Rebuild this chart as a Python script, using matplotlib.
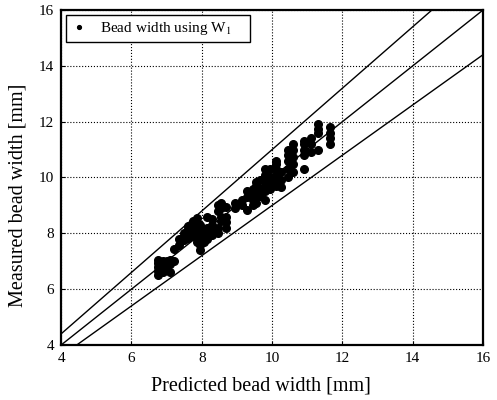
import numpy as np
import matplotlib
matplotlib.use('Agg')
from matplotlib import pyplot as plt

plt.rcParams['font.family'] = ['Liberation Serif', 'DejaVu Serif']
plt.rcParams['mathtext.fontset'] = 'stix'

# measured bead width, grouped by predicted value (columns of points)
pred_cols = [6.75, 6.9, 7.0, 7.1, 7.2, 7.35, 7.5, 7.6, 7.75, 7.85, 7.95,
             8.05, 8.15, 8.3, 8.45, 8.55, 8.7, 8.95, 9.15, 9.3, 9.45,
             9.55, 9.65, 9.8, 9.95, 10.1, 10.25, 10.45, 10.6, 10.9, 11.1,
             11.3, 11.65]
meas_cols = [
    [6.5, 6.65, 6.8, 6.95, 7.05],
    [6.6, 6.9, 7.0],
    [6.7, 6.85, 7.0],
    [6.6, 6.9, 7.05],
    [7.0, 7.45],
    [7.6, 7.8],
    [7.75, 7.9, 8.0],
    [7.85, 8.0, 8.15, 8.25],
    [7.9, 8.1, 8.3, 8.45],
    [7.7, 7.9, 8.05, 8.2, 8.4, 8.55],
    [7.4, 7.6, 7.8, 8.0, 8.15, 8.3],
    [7.7, 7.9, 8.1],
    [7.8, 8.0, 8.2, 8.6],
    [7.95, 8.1, 8.3, 8.5],
    [8.0, 8.2, 8.8, 9.0],
    [8.45, 8.6, 8.9, 9.1],
    [8.2, 8.4, 8.6, 8.95],
    [8.9, 9.1],
    [9.0, 9.2],
    [8.85, 9.3, 9.5],
    [9.0, 9.2, 9.4, 9.6],
    [9.1, 9.3, 9.5, 9.7, 9.85],
    [9.35, 9.6, 9.9],
    [9.2, 9.5, 9.7, 9.9, 10.1, 10.3],
    [9.6, 9.85, 10.0, 10.3],
    [9.7, 9.9, 10.1, 10.3, 10.5, 10.6],
    [9.65, 9.9, 10.2],
    [10.0, 10.3, 10.6, 10.8, 11.0],
    [10.2, 10.5, 10.75, 11.0, 11.2],
    [10.3, 10.8, 11.0, 11.2, 11.3],
    [10.9, 11.2, 11.4],
    [11.0, 11.6, 11.75, 11.9],
    [11.2, 11.4, 11.6, 11.8],
]
xticks = [4, 6, 8, 10, 12, 14, 16]
yticks = [4, 6, 8, 10, 12, 14, 16]

pred = np.concatenate([[p] * len(m) for p, m in zip(pred_cols, meas_cols)])
meas = np.concatenate(meas_cols)

fig = plt.figure(figsize=(4.97, 4.0), dpi=100)
ax = fig.add_axes([0.123, 0.1375, 0.849, 0.8375])

# y = x and +/-10 % bounds
xl = np.array([4.0, 16.0])
ax.plot(xl, xl, color='black', lw=1.0)
ax.plot(xl, 1.1 * xl, color='black', lw=1.0)
ax.plot(xl, 0.9 * xl, color='black', lw=1.0)
ax.plot(pred, meas, 'o', color='black', ms=5.5, mec='black',
        label='Bead width using W$_1$    ')

ax.set_xlim(4, 16)
ax.set_ylim(4, 16)
ax.set_xticks(xticks)
ax.set_yticks(yticks)
ax.grid(True, color='black', linestyle=':', lw=0.8)
ax.tick_params(direction='in', length=3, labelsize=11, pad=5)
for sp in ax.spines.values():
    sp.set_linewidth(1.6)

ax.set_xlabel('Predicted bead width [mm]', fontsize=14.5)
ax.set_ylabel('Measured bead width [mm]', fontsize=14.5)
ax.xaxis.set_label_coords(0.474, -0.095)
ax.yaxis.set_label_coords(-0.08, 0.448)

leg = ax.legend(loc='upper left', fontsize=11, markerscale=0.5,
                fancybox=False, framealpha=1, edgecolor='black',
                borderpad=0.35, handlelength=1.0, handletextpad=0.9,
                borderaxespad=0.3)
leg.get_frame().set_linewidth(1.0)

fig.savefig('out.png', dpi=100)
